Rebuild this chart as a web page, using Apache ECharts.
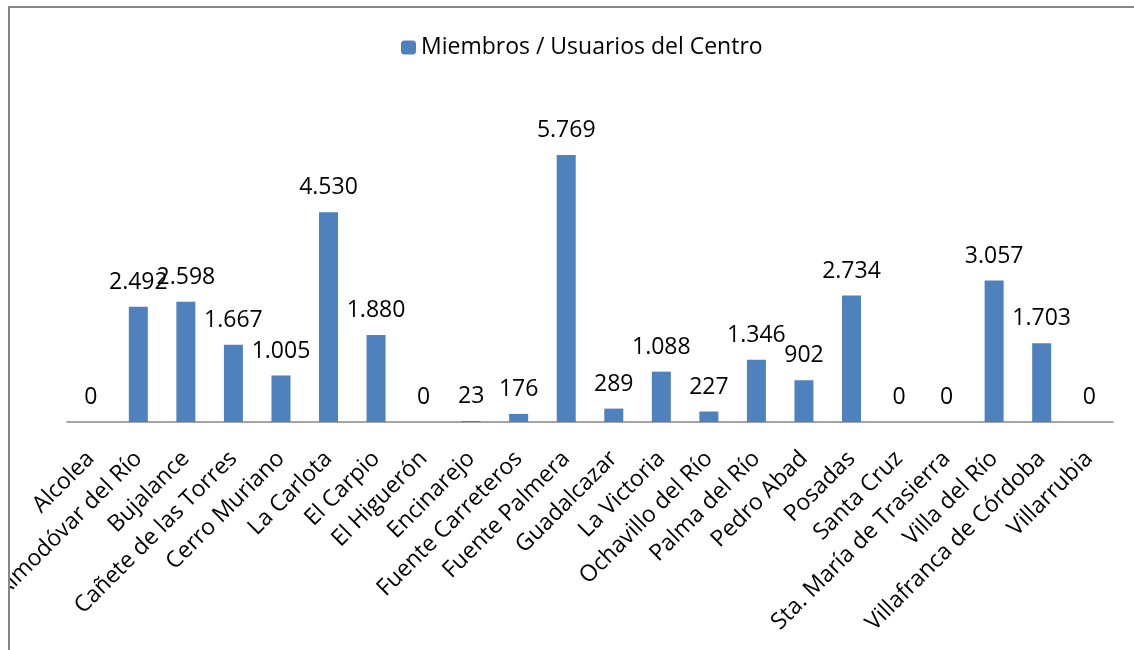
<!DOCTYPE html>
<html>
<head>
<meta charset="utf-8">
<script src="https://cdn.jsdelivr.net/npm/echarts@6/dist/echarts.min.js"></script>
<style>
  html, body { margin: 0; padding: 0; background: #fff; overflow: hidden; }
  #frame {
    position: absolute; left: 8px; top: 6px;
    width: 1130px; height: 650px;
    border-left: 2px solid #868686; border-top: 2px solid #868686;
    overflow: hidden;
  }
  #chart { width: 1124px; height: 642px; }
</style>
</head>
<body>
<div id="frame"><div id="chart"></div></div>
<script>
// Municipios y número de miembros / usuarios del centro
const categories = [
  'Alcolea', 'Almodóvar del Río', 'Bujalance', 'Cañete de las Torres',
  'Cerro Muriano', 'La Carlota', 'El Carpio', 'El Higuerón', 'Encinarejo',
  'Fuente Carreteros', 'Fuente Palmera', 'Guadalcazar', 'La Victoria',
  'Ochavillo del Río', 'Palma del Río', 'Pedro Abad', 'Posadas', 'Santa Cruz',
  'Sta. María de Trasierra', 'Villa del Río', 'Villafranca de Córdoba', 'Villarrubia'
];
const seriesName = 'Miembros / Usuarios del Centro';
const members = [
  0, 2492, 2598, 1667, 1005, 4530, 1880, 0, 23, 176, 5769, 289, 1088,
  227, 1346, 902, 2734, 0, 0, 3057, 1703, 0
];

// Separador de miles con punto
function fmt(v) {
  return String(v).replace(/\B(?=(\d{3})+(?!\d))/g, '.');
}

const FONT = 'Open Sans';
const chart = echarts.init(document.getElementById('chart'), null, { renderer: 'canvas' });
chart.setOption({
  animation: false,
  backgroundColor: '#ffffff',
  textStyle: { fontFamily: FONT },
  legend: {
    data: [seriesName],
    top: 23,
    left: 386,
    itemWidth: 15,
    itemHeight: 14,
    itemGap: 7,
    textStyle: { fontSize: 23, color: '#000', fontFamily: FONT }
  },
  grid: {
    left: 57, right: 21, top: 90, bottom: 228,
    containLabel: false,
    outerBoundsMode: 'none'
  },
  xAxis: {
    type: 'category',
    data: categories,
    axisLine: { lineStyle: { color: '#868686', width: 1.5 } },
    axisTick: { show: false },
    axisLabel: {
      interval: 0,
      rotate: 45,
      margin: 33,
      fontSize: 23,
      color: '#000',
      fontFamily: FONT
    }
  },
  yAxis: {
    type: 'value',
    min: 0,
    max: 7000,
    show: false,
    splitLine: { show: false }
  },
  series: [{
    name: seriesName,
    type: 'bar',
    data: members,
    barWidth: 19,
    itemStyle: { color: '#4F81BD' },
    label: {
      show: true,
      position: 'top',
      distance: 13,
      fontSize: 23,
      color: '#000',
      fontFamily: FONT,
      formatter: p => fmt(p.value)
    }
  }]
});
</script>
</body>
</html>
